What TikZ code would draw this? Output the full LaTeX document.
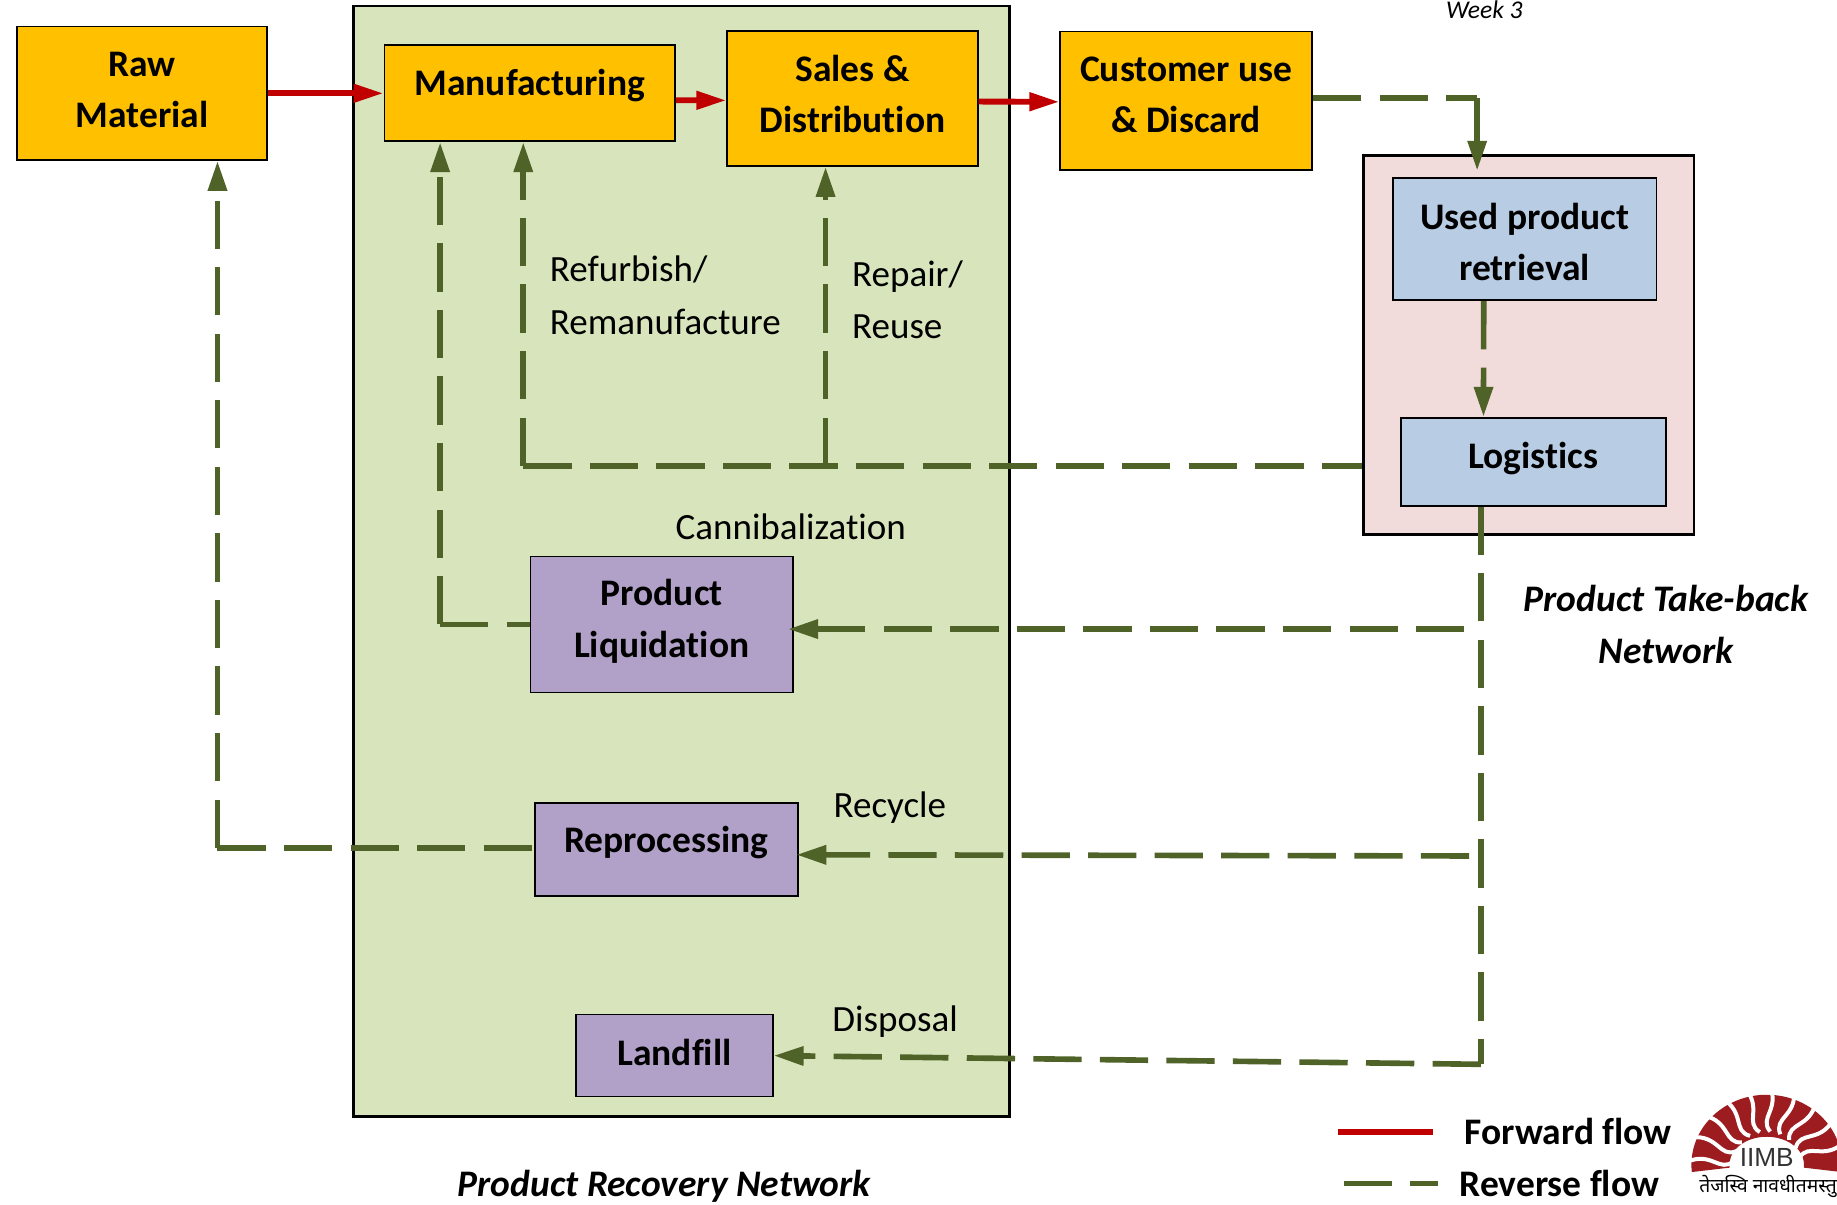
\documentclass[tikz,border=0pt]{standalone}
\usepackage{fontspec}
\setmainfont[Ligatures=NoCommon]{Carlito}
\newfontfamily\hindifont[Script=Devanagari]{Noto Sans}
\newfontfamily\logofont{Liberation Sans}
\usepackage{xcolor}
\usetikzlibrary{positioning, arrows.meta}
\definecolor{amber}{HTML}{FFC000}
\definecolor{leaf}{HTML}{D8E4BC}
\definecolor{blush}{HTML}{F2DCDB}
\definecolor{steel}{HTML}{B8CCE4}
\definecolor{lilac}{HTML}{B1A0C7}
\definecolor{olive}{HTML}{4F6228}
\definecolor{crimson}{HTML}{C00000}
\definecolor{iimbred}{HTML}{9C1C20}
\newcommand{\boldsize}{\fontsize{16}{22}\selectfont\bfseries}
\newcommand{\plainsize}{\fontsize{15.8}{22.3}\selectfont}

\begin{document}
\begin{tikzpicture}[
  box/.style={draw, line width=0.75pt, inner sep=0pt, align=center, font=\boldsize},
  orangebox/.style={box, fill=amber},
  bluebox/.style={box, fill=steel},
  purplebox/.style={box, fill=lilac},
  netbox/.style={draw, line width=1.2pt, inner sep=0pt, anchor=north west},
  forward/.style={draw=crimson, line width=2.5pt},
  reverse/.style={draw=olive, line width=2.4pt, dash pattern=on 20.6pt off 7.8pt},
  reversesolid/.style={draw=olive, line width=2.4pt},
  lbl/.style={inner sep=0pt, align=left, font=\plainsize},
  netlbl/.style={inner sep=0pt, align=center, font=\boldsize\itshape},
  redtip/.tip={Triangle[length=12.8pt, width=7.5pt, fill=crimson]},
  greentip/.tip={Triangle[length=12.8pt, width=7.8pt, fill=olive]},
  >=Stealth
]
  \useasboundingbox (0,0) rectangle (27.554,-18.06);

  % Two networks
  \node[netbox, fill=leaf, minimum width=9.84cm, minimum height=16.66cm] (recovery)
    at (5.277,-0.068) {};
  \node[netbox, fill=blush, minimum width=4.96cm, minimum height=5.69cm] (takeback)
    at (20.429,-2.311) {};

  % Forward chain
  \node[orangebox, anchor=north west, minimum width=3.74cm, minimum height=2cm, text depth=3pt] (raw)
    at (0.246,-0.386) {Raw\\Material};
  \node[orangebox, right=1.74cm of raw, minimum width=4.36cm, minimum height=1.44cm, text depth=9.3pt] (manuf)
    {Manufacturing};
  \node[orangebox, right=0.755cm of manuf, yshift=-0.08cm, minimum width=3.76cm, minimum height=2.02cm, text depth=4pt] (sales)
    {Sales \&\\Distribution};
  \node[orangebox, right=1.21cm of sales, yshift=-0.03cm, minimum width=3.78cm, minimum height=2.07cm, text depth=5pt] (customer)
    {Customer use\\\& Discard};

  % Take-back
  \node[bluebox, below=0.35cm of takeback.north, xshift=-0.06cm, minimum width=3.95cm, minimum height=1.83cm] (used)
    {\rule{0pt}{13.5pt}Used product\\retrieval};
  \node[bluebox, below=1.735cm of used, xshift=0.13cm, minimum width=3.97cm, minimum height=1.32cm, text depth=5.8pt] (logistics)
    {Logistics};

  % Recovery options
  \node[purplebox, below=6.2cm of manuf, xshift=1.98cm, minimum width=3.94cm, minimum height=2.04cm, text depth=5.3pt] (liq)
    {Product\\Liquidation};
  \node[purplebox, below=1.635cm of liq, xshift=0.07cm, minimum width=3.94cm, minimum height=1.39cm, text depth=8.3pt] (rep)
    {Reprocessing};
  \node[purplebox, below=1.755cm of rep, xshift=0.12cm, minimum width=2.95cm, minimum height=1.23cm, text depth=3pt] (landfill)
    {Landfill};

  % Corners of the reverse flow
  \coordinate[right=2.46cm of customer.east, yshift=0.035cm] (usedbend);
  \coordinate (refurbfoot) at ([xshift=-0.097cm,yshift=-1.81cm]manuf.south |- takeback.west);
  \coordinate (repairfoot) at ([xshift=-0.404cm]sales.south |- refurbfoot);
  \coordinate (liqfoot) at ([xshift=-1.344cm]manuf.south |- liq.west);
  \coordinate[below=8.365cm of logistics.south, xshift=-0.789cm] (logfoot);
  \coordinate (liqstart) at ([xshift=-0.246cm,yshift=-0.07cm]logfoot |- liq.east);
  \coordinate (repstart) at ([xshift=-0.176cm,yshift=-0.097cm]logfoot |- rep.east);
  \coordinate (rawfoot) at ([xshift=1.133cm,yshift=0.026cm]raw.south |- rep.west);

  % Forward arrows
  \draw[forward, -redtip] (raw) -- (manuf);
  \draw[forward, -redtip] ([yshift=-0.105cm]manuf.east) -- ([yshift=-0.026cm]sales.west);
  \draw[forward, -redtip] ([yshift=-0.044cm]sales.east) -- ([yshift=-0.018cm]customer.west);

  % Reverse arrows
  \draw[reverse] ([yshift=0.035cm]customer.east) -- (usedbend);
  \draw[reversesolid, -greentip] (usedbend) -- ([yshift=-0.25cm]usedbend |- takeback.north);
  \draw[reverse, -greentip] ([xshift=-0.615cm]used.south) -- ([xshift=-0.749cm]logistics.north);
  \draw[reverse] (refurbfoot) -- ([yshift=-1.81cm]takeback.west);
  \draw[reverse, -greentip] (refurbfoot) -- ([xshift=-0.097cm]manuf.south);
  \draw[reverse, -greentip] (repairfoot) -- ([xshift=-0.404cm]sales.south);
  \draw[reverse] (liqfoot) -- (liq.west);
  \draw[reverse, -greentip] (liqfoot) -- ([xshift=-1.344cm]manuf.south);
  \draw[reverse] ([xshift=-0.789cm]logistics.south) -- (logfoot);
  \draw[reverse, -greentip] (logfoot) -- (landfill.east);
  \draw[reverse, -greentip] (liqstart) -- ([xshift=-0.088cm,yshift=-0.07cm]liq.east);
  \draw[reverse, -greentip] (repstart) -- ([xshift=-0.035cm,yshift=-0.079cm]rep.east);
  \draw[reverse] (rawfoot) -- ([yshift=0.026cm]rep.west);
  \draw[reverse, -greentip] (rawfoot) -- ([xshift=1.133cm]raw.south);

  % Labels
  \node[lbl, anchor=west] (refurblbl) at (8.242,-4.428) {Refurbish/\\Remanufacture};
  \node[lbl, anchor=west] (repairlbl) at (12.775,-4.5) {Repair/\\Reuse};
  \node[lbl] (cannlbl) at (11.862,-7.908) {Cannibalization};
  \node[lbl] (recyclbl) at (13.347,-12.12) {Recycle};
  \node[lbl] (displbl) at (13.426,-15.32) {Disposal};
  \node[netlbl] (takebacklbl) at (24.989,-9.366) {Product Take-back\\Network};
  \node[netlbl] (recoverylbl) at (9.964,-17.8) {Product Recovery Network};
  \node[inner sep=0pt, font=\fontsize{10.9}{13}\selectfont\itshape] (weeklbl) at (22.265,-0.14) {Week 3};

  % Legend
  \coordinate (fwdleft) at (20.068,-16.976);
  \coordinate[right=1.42cm of fwdleft] (fwdright);
  \coordinate (revleft) at (20.156,-17.749);
  \coordinate[right=1.406cm of revleft] (revright);
  \draw[forward] (fwdleft) -- (fwdright);
  \draw[reverse] (revleft) -- (revright);
  \node[inner sep=0pt, font=\boldsize] (fwdlbl) at (23.522,-16.976) {Forward flow};
  \node[inner sep=0pt, font=\boldsize] (revlbl) at (23.39,-17.749) {Reverse flow};

  % Logo
  \coordinate (logoc) at (26.5,-17.47);
  \fill[iimbred] ([shift={(-6:1.13cm and 1.05cm)}]logoc) arc[start angle=-6, end angle=186, x radius=1.13cm, y radius=1.05cm]
    -- ([shift={(186:0.56cm and 0.42cm)}]logoc) arc[start angle=186, end angle=-6, x radius=0.56cm, y radius=0.42cm] -- cycle;
  \foreach \a in {12,30,...,174}
    \draw[white, line width=1.7pt]
      ([shift={(\a:0.5cm)}]logoc) .. controls ([shift={(\a+16:0.72cm)}]logoc) and ([shift={(\a-8:0.85cm)}]logoc)
      .. ([shift={(\a+4:1.2cm)}]logoc);
  \node[inner sep=0pt, text=black!80, font=\logofont\fontsize{11.2}{12}\selectfont] (iimb) at (26.5,-17.36) {IIMB};
  \node[inner sep=0pt, font=\hindifont\fontsize{8.2}{10}\selectfont] (motto) at (26.52,-17.8) {तेजस्वि नावधीतमस्तु};
\end{tikzpicture}
\end{document}
